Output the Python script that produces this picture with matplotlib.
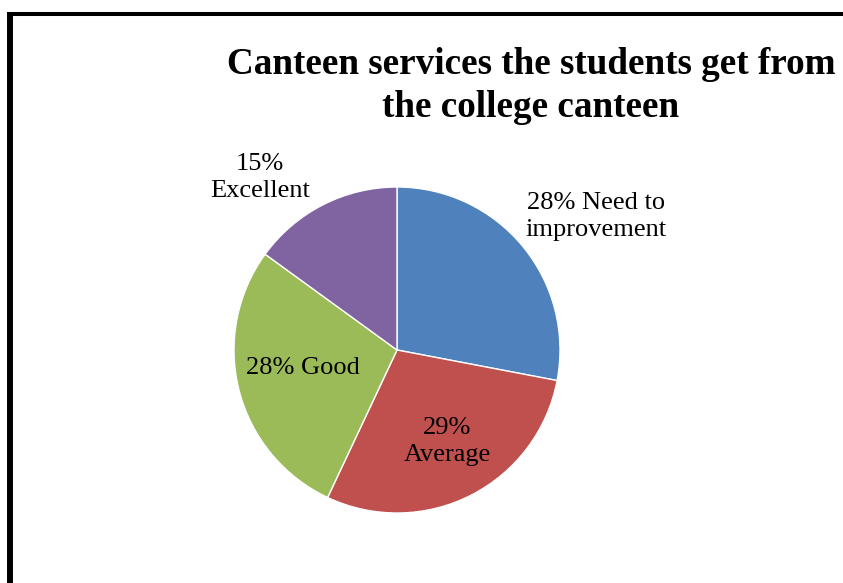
import matplotlib.pyplot as plt
from matplotlib.lines import Line2D

# data
categories = ['Need to\nimprovement', 'Average', 'Good', 'Excellent']
values = [28, 29, 28, 15]
label_text = ['28% Need to\nimprovement', '29%\nAverage', '28% Good', '15%\nExcellent']
colors = ['#4F81BD', '#C0504D', '#9BBB59', '#8064A2']

W, H = 843, 583
fig = plt.figure(figsize=(W / 100, H / 100), dpi=100)
plt.rcParams['font.family'] = ['Liberation Serif', 'DejaVu Serif']

# pie centre and radius in pixels
cx, cy, r = 397, 350, 163
ax = fig.add_axes([(cx - r) / W, (H - cy - r) / H, 2 * r / W, 2 * r / H])
ax.pie(values, colors=colors, startangle=90, counterclock=False, radius=1,
       wedgeprops=dict(edgecolor='white', linewidth=1))
ax.set_xlim(-1, 1)
ax.set_ylim(-1, 1)
ax.set_aspect('auto')
ax.axis('off')

# label positions (data units, relative to pie)
label_pos = [(1.22, 0.82), (0.31, -0.56), (-0.58, -0.11), (-0.84, 1.06)]
for txt, (lx, ly) in zip(label_text, label_pos):
    ax.text(lx, ly, txt, ha='center', va='center', fontsize=19,
            linespacing=1.3, color='black')

fig.text(531 / W, 1 - 86 / H, 'Canteen services the students get from\nthe college canteen',
         ha='center', va='center', fontsize=26.7, fontweight='bold', linespacing=1.3)

# chart frame (left and top edges visible)
fig.add_artist(Line2D([10 / W, 10 / W], [0, 1 - 12 / H], transform=fig.transFigure,
                      color='black', linewidth=4.3, solid_capstyle='butt'))
fig.add_artist(Line2D([7 / W, 1], [1 - 13.5 / H, 1 - 13.5 / H], transform=fig.transFigure,
                      color='black', linewidth=2.9, solid_capstyle='butt'))

fig.savefig('out.png', dpi=100)
